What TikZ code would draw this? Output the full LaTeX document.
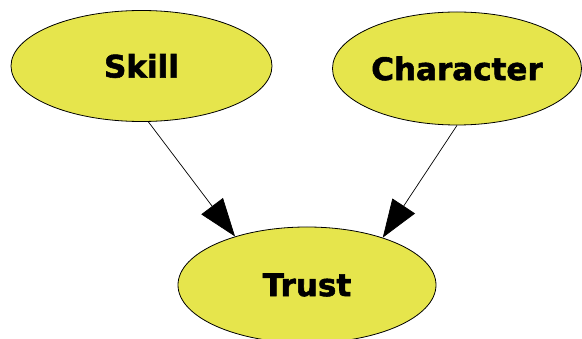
\documentclass[tikz,border=0pt]{standalone}
\usepackage{fontspec}
\setmainfont{DejaVu Sans}
\newfontfamily\heavyfont[FakeBold=1.8]{DejaVu Sans Bold}
\usetikzlibrary{arrows.meta,shapes.geometric}
\definecolor{nodefill}{RGB}{230,229,76}
\begin{document}
\begin{tikzpicture}[x=1pt,y=-1pt,
  bubble/.style={ellipse,draw=black,line width=0.8pt,fill=nodefill,inner sep=0pt,
    font=\fontsize{31}{31}\selectfont\heavyfont},
  link/.style={line width=0.7pt,-{Triangle[length=38pt,width=27pt]}}]
\clip (0,0) rectangle (582,339);
\fill[white] (0,0) rectangle (582,339);
\node[bubble,minimum width=261pt,minimum height=111pt] (skill) at (141.5,66) {Skill};
\node[bubble,minimum width=249pt,minimum height=113pt] (char) at (457,68.5) {Character};
\node[bubble,minimum width=258pt,minimum height=116pt] (trust) at (307,285) {Trust};
\draw[link] (skill.-83) -- (trust.146);
\draw[link] (char.south) -- (trust.32);
\end{tikzpicture}
\end{document}
